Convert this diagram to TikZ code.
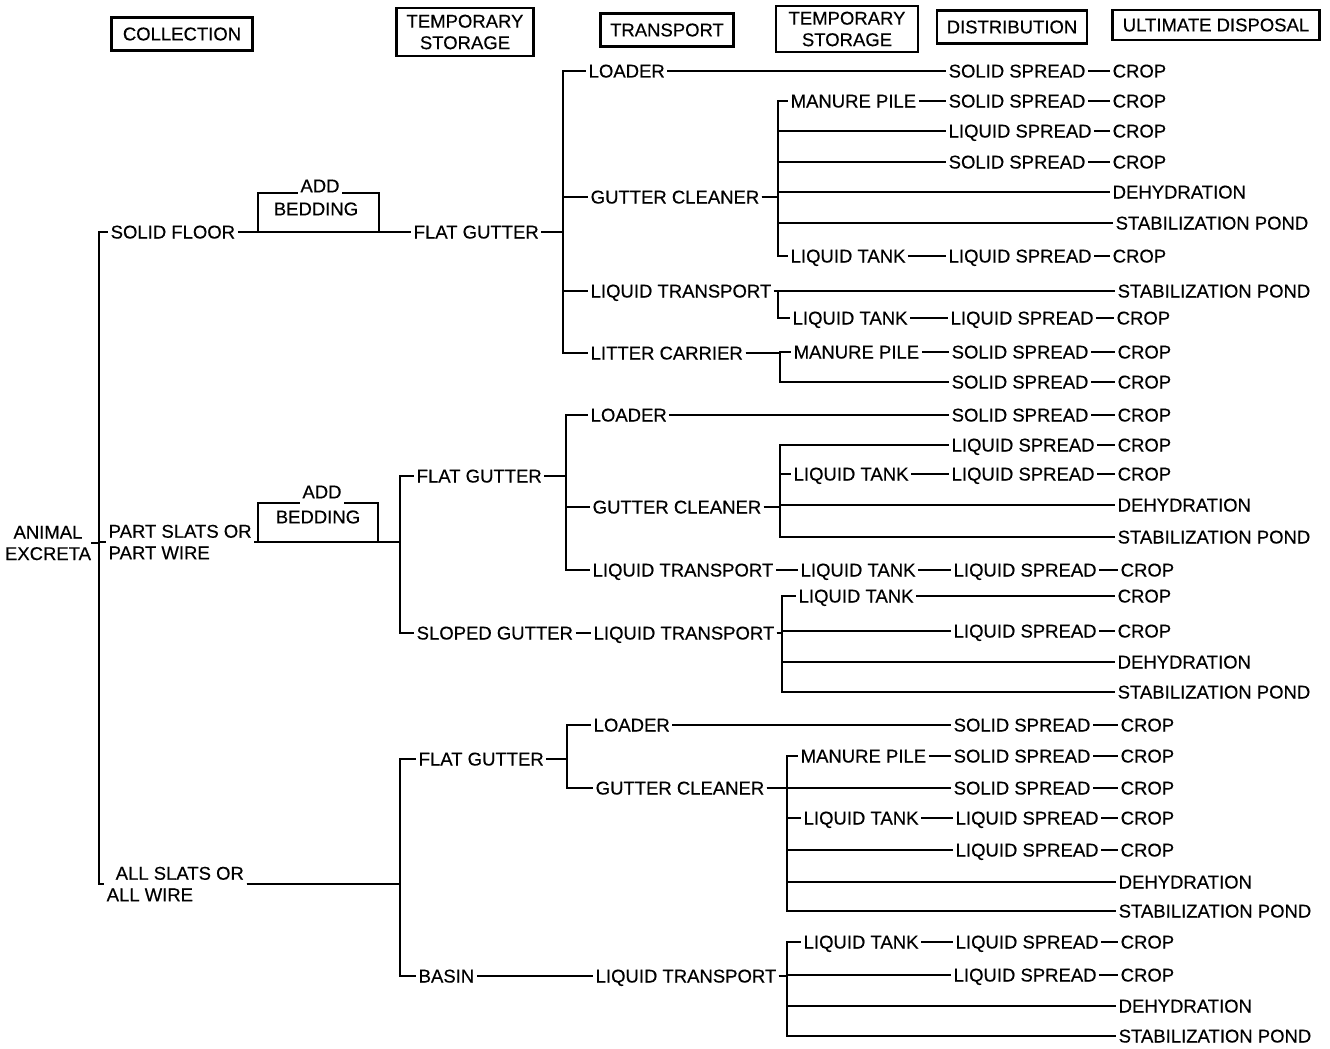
\documentclass[tikz,border=0pt]{standalone}
\usepackage{fontspec}
\setmainfont[FakeBold=0.4]{Liberation Sans}
\newcommand\lbf{\fontsize{18.5}{21.5}\selectfont}
\newcommand\myfan[3]{\foreach \c in {#3}{\draw[ln] (#1.east) -- (#1.east -| #2) |- (\c.west);}}
\newcommand\chain[1]{\foreach \a/\b in {#1}{\draw[ln] (\a.east) -- (\b.west);}}
\begin{document}
\begin{tikzpicture}[x=1pt,y=-1pt,
  ln/.style={line width=1.8pt},
  lbl/.style={anchor=west, inner xsep=2.5pt, inner ysep=0pt, text height=13pt, text depth=0pt, font=\lbf},
  lbl2/.style={anchor=west, align=left, inner xsep=2.5pt, inner ysep=0pt, font=\lbf},
  hdr/.style={draw, line width=2.2pt, align=center, inner sep=0pt, font=\lbf},
  plain/.style={inner sep=0pt, font=\lbf}]
\useasboundingbox (0,0) rectangle (1330,1049);
% headers
\node[hdr, minimum width=141pt, minimum height=33pt] (hCol) at (182,34) {COLLECTION};
\node[hdr, minimum width=137pt, minimum height=48pt] (hTs1) at (465,32) {TEMPORARY\\STORAGE};
\node[hdr, minimum width=133pt, minimum height=33pt] (hTr) at (667,30) {TRANSPORT};
\node[hdr, minimum width=142pt, minimum height=46pt] (hTs2) at (847,29) {TEMPORARY\\STORAGE};
\node[hdr, minimum width=150pt, minimum height=33pt] (hDi) at (1012,27) {DISTRIBUTION};
\node[hdr, minimum width=207pt, minimum height=30pt] (hUd) at (1216,25) {ULTIMATE DISPOSAL};
% bus coordinates
\coordinate (trunk) at (99,0);
\coordinate (bA1) at (563,0); \coordinate (bA2) at (778,0); \coordinate (bA3) at (778,0); \coordinate (bA4) at (780,0);
\coordinate (bB1) at (400,0); \coordinate (bB2) at (566,0); \coordinate (bB3) at (780,0); \coordinate (bB4) at (782,0);
\coordinate (bC1) at (400,0); \coordinate (bC2) at (567,0); \coordinate (bC3) at (787,0); \coordinate (bC4) at (787,0);
% root
\node[plain, align=center] (root) at (48,543) {ANIMAL\\EXCRETA};
% ---------- branch A
\node[lbl] (sfA) at (108,232) {SOLID FLOOR};
\node[lbl] (fgA) at (411,232) {FLAT GUTTER};
\node[lbl] (loA) at (586,71) {LOADER};
\node[lbl] (gcA) at (588,197) {GUTTER CLEANER};
\node[lbl] (ltrA) at (588,291) {LIQUID TRANSPORT};
\node[lbl] (lcA) at (588,353) {LITTER CARRIER};
\node[lbl] (ssA1) at (946,71) {SOLID SPREAD};
\node[lbl] (crA1) at (1110,71) {CROP};
\node[lbl] (mpA1) at (788,101) {MANURE PILE};
\node[lbl] (ssA2) at (946,101) {SOLID SPREAD};
\node[lbl] (crA2) at (1110,101) {CROP};
\node[lbl] (lsA3) at (946,131) {LIQUID SPREAD};
\node[lbl] (crA3) at (1110,131) {CROP};
\node[lbl] (ssA4) at (946,162) {SOLID SPREAD};
\node[lbl] (crA4) at (1110,162) {CROP};
\node[lbl] (dehA) at (1110,192) {DEHYDRATION};
\node[lbl] (spA) at (1113,223) {STABILIZATION POND};
\node[lbl] (ltA1) at (788,256) {LIQUID TANK};
\node[lbl] (lsA5) at (946,256) {LIQUID SPREAD};
\node[lbl] (crA5) at (1110,256) {CROP};
\node[lbl] (spA2) at (1115,291) {STABILIZATION POND};
\node[lbl] (ltA2) at (790,318) {LIQUID TANK};
\node[lbl] (lsA6) at (948,318) {LIQUID SPREAD};
\node[lbl] (crA6) at (1114,318) {CROP};
\node[lbl] (mpA2) at (791,352) {MANURE PILE};
\node[lbl] (ssA7) at (949,352) {SOLID SPREAD};
\node[lbl] (crA7) at (1115,352) {CROP};
\node[lbl] (ssA8) at (949,382) {SOLID SPREAD};
\node[lbl] (crA8) at (1115,382) {CROP};
% bedding A
\node[plain] (addA) at (320,186) {ADD};
\node[plain] (bedA) at (316,209) {BEDDING};
\draw[ln] (258,232) |- (298,193);
\draw[ln] (342,193) -| (379,232);
% ---------- branch B
\node[lbl2] (psB) at (106,542) {PART SLATS OR\\PART WIRE};
\node[lbl] (fgB) at (414,476) {FLAT GUTTER};
\node[lbl] (sgB) at (414,633) {SLOPED GUTTER};
\node[lbl] (loB) at (588,415) {LOADER};
\node[lbl] (gcB) at (590,507) {GUTTER CLEANER};
\node[lbl] (ltrB) at (590,570) {LIQUID TRANSPORT};
\node[lbl] (ssB1) at (949,415) {SOLID SPREAD};
\node[lbl] (crB1) at (1115,415) {CROP};
\node[lbl] (lsB2) at (949,445) {LIQUID SPREAD};
\node[lbl] (crB2) at (1115,445) {CROP};
\node[lbl] (ltB1) at (791,474) {LIQUID TANK};
\node[lbl] (lsB3) at (949,474) {LIQUID SPREAD};
\node[lbl] (crB3) at (1115,474) {CROP};
\node[lbl] (dehB1) at (1115,505) {DEHYDRATION};
\node[lbl] (spB1) at (1115,537) {STABILIZATION POND};
\node[lbl] (ltB2) at (798,570) {LIQUID TANK};
\node[lbl] (lsB4) at (951,570) {LIQUID SPREAD};
\node[lbl] (crB4) at (1118,570) {CROP};
\node[lbl] (ltrB2) at (591,633) {LIQUID TRANSPORT};
\node[lbl] (ltB3) at (796,596) {LIQUID TANK};
\node[lbl] (crB5) at (1115,596) {CROP};
\node[lbl] (lsB5) at (951,631) {LIQUID SPREAD};
\node[lbl] (crB6) at (1115,631) {CROP};
\node[lbl] (dehB2) at (1115,662) {DEHYDRATION};
\node[lbl] (spB2) at (1115,692) {STABILIZATION POND};
% bedding B
\node[plain] (addB) at (322,492) {ADD};
\node[plain] (bedB) at (318,517) {BEDDING};
\draw[ln] (258,542) |- (300,503);
\draw[ln] (344,503) -| (378,542);
% ---------- branch C
\node[lbl2] (asC) at (104,884) {\hspace*{9pt}ALL SLATS OR\\ALL WIRE};
\node[lbl] (fgC) at (416,759) {FLAT GUTTER};
\node[lbl] (bsC) at (416,976) {BASIN};
\node[lbl] (loC) at (591,725) {LOADER};
\node[lbl] (gcC) at (593,788) {GUTTER CLEANER};
\node[lbl] (ssC1) at (951,725) {SOLID SPREAD};
\node[lbl] (crC1) at (1118,725) {CROP};
\node[lbl] (mpC) at (798,756) {MANURE PILE};
\node[lbl] (ssC2) at (951,756) {SOLID SPREAD};
\node[lbl] (crC2) at (1118,756) {CROP};
\node[lbl] (ssC3) at (951,788) {SOLID SPREAD};
\node[lbl] (crC3) at (1118,788) {CROP};
\node[lbl] (ltC1) at (801,818) {LIQUID TANK};
\node[lbl] (lsC4) at (953,818) {LIQUID SPREAD};
\node[lbl] (crC4) at (1118,818) {CROP};
\node[lbl] (lsC5) at (953,850) {LIQUID SPREAD};
\node[lbl] (crC5) at (1118,850) {CROP};
\node[lbl] (dehC1) at (1116,882) {DEHYDRATION};
\node[lbl] (spC1) at (1116,911) {STABILIZATION POND};
\node[lbl] (ltrC) at (593,976) {LIQUID TRANSPORT};
\node[lbl] (ltC2) at (801,942) {LIQUID TANK};
\node[lbl] (lsC6) at (953,942) {LIQUID SPREAD};
\node[lbl] (crC6) at (1118,942) {CROP};
\node[lbl] (lsC7) at (951,975) {LIQUID SPREAD};
\node[lbl] (crC7) at (1118,975) {CROP};
\node[lbl] (dehC2) at (1116,1006) {DEHYDRATION};
\node[lbl] (spC2) at (1116,1036) {STABILIZATION POND};
% ---------- connectors
\myfan{root}{trunk}{sfA,psB,asC}
% A
\chain{sfA/fgA}
\myfan{fgA}{bA1}{loA,gcA,ltrA,lcA}
\chain{loA/ssA1,ssA1/crA1}
\myfan{gcA}{bA2}{mpA1,lsA3,ssA4,dehA,spA,ltA1}
\chain{mpA1/ssA2,ssA2/crA2,lsA3/crA3,ssA4/crA4,ltA1/lsA5,lsA5/crA5}
\myfan{ltrA}{bA3}{spA2,ltA2}
\chain{ltA2/lsA6,lsA6/crA6}
\myfan{lcA}{bA4}{mpA2,ssA8}
\chain{mpA2/ssA7,ssA7/crA7,ssA8/crA8}
% B
\myfan{psB}{bB1}{fgB,sgB}
\myfan{fgB}{bB2}{loB,gcB,ltrB}
\chain{loB/ssB1,ssB1/crB1}
\myfan{gcB}{bB3}{lsB2,ltB1,dehB1,spB1}
\chain{lsB2/crB2,ltB1/lsB3,lsB3/crB3}
\chain{ltrB/ltB2,ltB2/lsB4,lsB4/crB4}
\chain{sgB/ltrB2}
\myfan{ltrB2}{bB4}{ltB3,lsB5,dehB2,spB2}
\chain{ltB3/crB5,lsB5/crB6}
% C
\myfan{asC}{bC1}{fgC,bsC}
\myfan{fgC}{bC2}{loC,gcC}
\chain{loC/ssC1,ssC1/crC1}
\myfan{gcC}{bC3}{mpC,ssC3,ltC1,lsC5,dehC1,spC1}
\chain{mpC/ssC2,ssC2/crC2,ssC3/crC3,ltC1/lsC4,lsC4/crC4,lsC5/crC5}
\chain{bsC/ltrC}
\myfan{ltrC}{bC4}{ltC2,lsC7,dehC2,spC2}
\chain{ltC2/lsC6,lsC6/crC6,lsC7/crC7}
\end{tikzpicture}
\end{document}
